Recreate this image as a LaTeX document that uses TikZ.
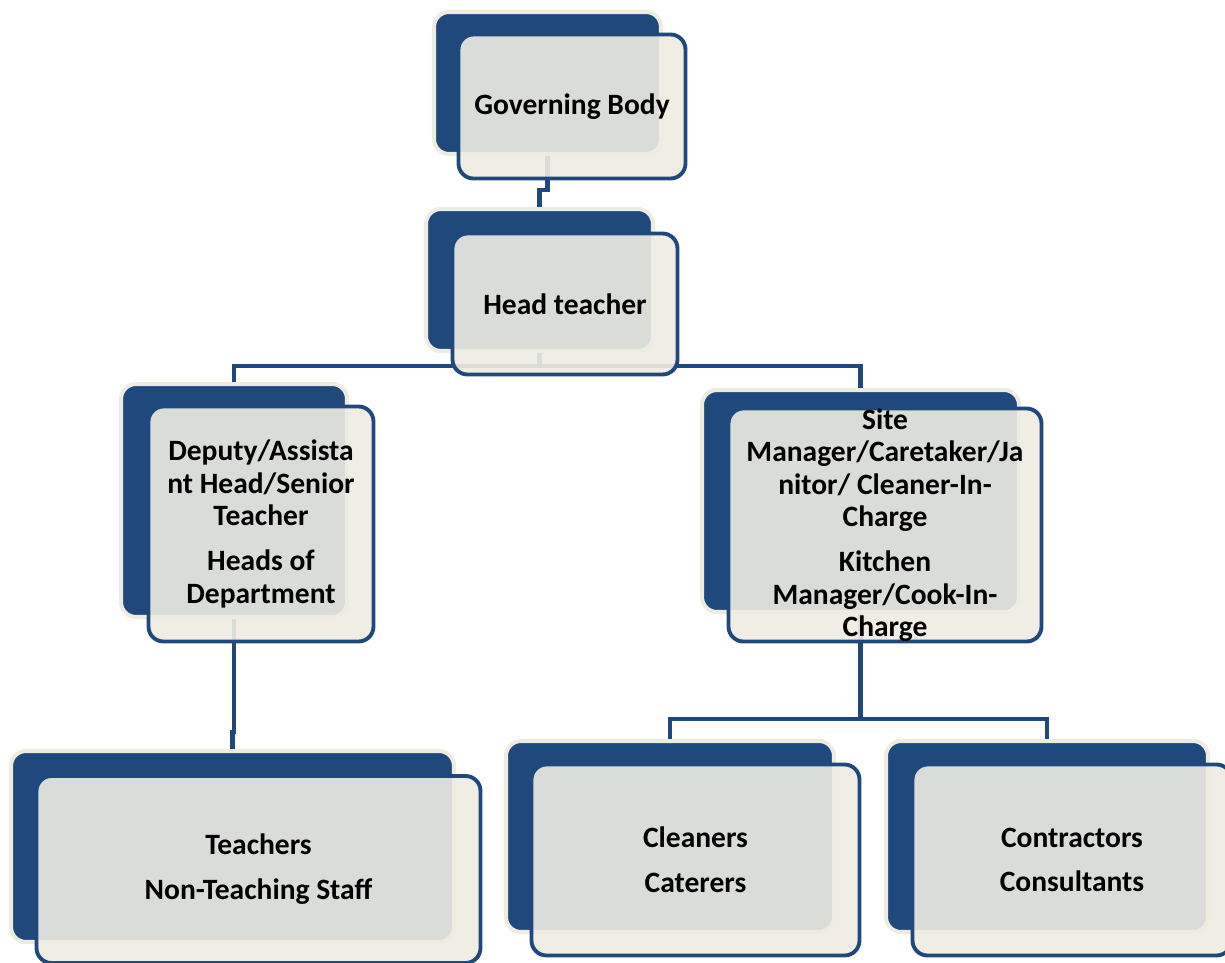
\documentclass[tikz,border=0pt]{standalone}
\usepackage{fontspec}
\setmainfont{Carlito}
\usepackage{tikz}
\usetikzlibrary{positioning,calc}

\definecolor{hdblue}{HTML}{1F497D}
\definecolor{hdcream}{HTML}{EEECE1}

\tikzset{
  backbox/.style={rectangle, rounded corners=0.3cm, fill=hdblue, draw=hdcream, line width=2.3pt, inner sep=0pt},
  frontbox/.style={rectangle, rounded corners=0.3cm, fill=hdcream, fill opacity=0.9, text opacity=1, draw=hdblue, line width=2.2pt, inner sep=0pt, align=center, font=\fontsize{16.8}{18.5}\selectfont\bfseries},
  link/.style={draw=hdblue, line width=2.6pt}
}

\begin{document}
\begin{tikzpicture}[y=-1cm]
			\useasboundingbox (0,0) rectangle (24.5,19.26);
			\clip (0,0) rectangle (24.5,19.26);
			% back boxes
			\node[backbox, minimum width=4.54cm, minimum height=2.84cm] (gbb) at (10.95,1.66) {};
			\node[backbox, minimum width=4.54cm, minimum height=2.84cm] (htb) at (10.79,5.60) {};
			\node[backbox, minimum width=4.52cm, minimum height=4.66cm] (dpb) at (4.68,10.01) {};
			\node[backbox, minimum width=6.34cm, minimum height=4.44cm] (stb) at (17.21,10.02) {};
			\node[backbox, minimum width=8.86cm, minimum height=3.82cm] (tcb) at (4.65,16.93) {};
			\node[backbox, minimum width=6.56cm, minimum height=3.82cm] (clb) at (13.40,16.73) {};
			\node[backbox, minimum width=6.44cm, minimum height=3.82cm] (cob) at (20.94,16.73) {};
			% connectors
			\draw[link] (gbb.south) -- ++(0,0.68) -| (htb.north);
			\draw[link] (htb.south) -- ++(0,0.26) coordinate (hj);
			\draw[link] (dpb.north) |- (hj) -| (stb.north);
			\draw[link] (dpb.south) -- ++(0,2.26) -| (tcb.north);
			\draw[link] (stb.south) -- ++(0,2.10) coordinate (sj);
			\draw[link] (clb.north) |- (sj) -| (cob.north);
			% front boxes
			\node[frontbox, minimum width=4.54cm, minimum height=2.88cm] (gbf) at (11.44,2.13) {Governing Body};
			\node[frontbox, minimum width=4.50cm, minimum height=2.82cm] (htf) at (11.30,6.08) {Head teacher};
			\node[frontbox, minimum width=4.50cm, minimum height=4.70cm] (dpf) at (5.22,10.48) {Deputy/Assista\\nt Head/Senior\\Teacher\\[7pt]Heads of\\Department};
			\node[frontbox, minimum width=6.26cm, minimum height=4.46cm] (stf) at (17.70,10.50) {Site\\Manager/Caretaker/Ja\\nitor/ Cleaner-In-\\Charge\\[7pt]Kitchen\\Manager/Cook-In-\\Charge};
			\node[frontbox, minimum width=8.88cm, minimum height=3.74cm] (tcf) at (5.17,17.39) {Teachers\\[7pt]Non-Teaching Staff};
			\node[frontbox, minimum width=6.56cm, minimum height=3.82cm] (clf) at (13.91,17.20) {Cleaners\\[7pt]Caterers};
			\node[frontbox, minimum width=6.38cm, minimum height=3.82cm] (cof) at (21.44,17.20) {Contractors\\[7pt]Consultants};
		\end{tikzpicture}
\end{document}
